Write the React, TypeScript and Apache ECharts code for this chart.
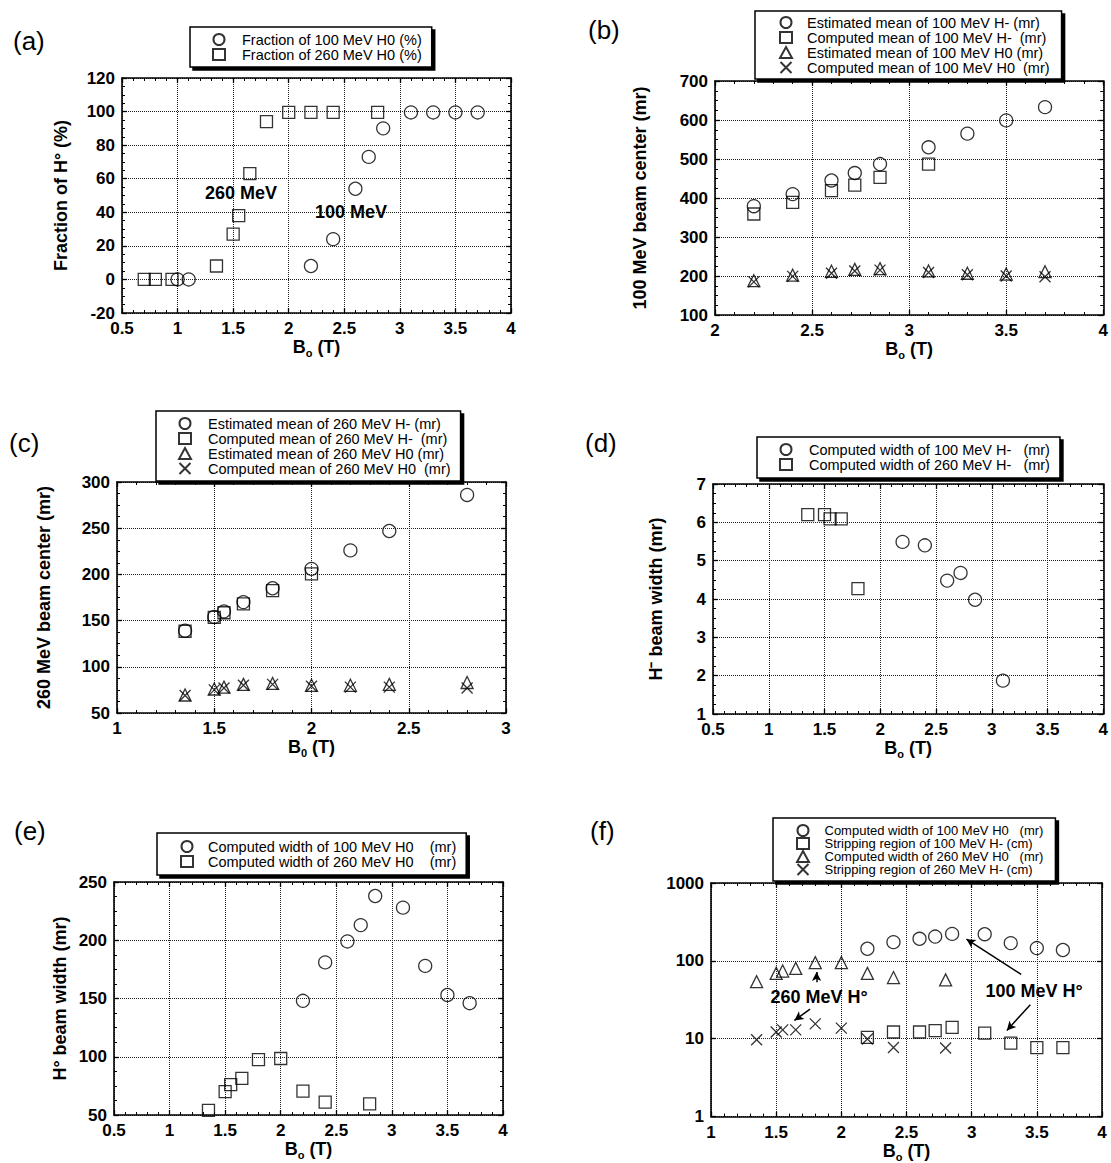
import React, { useEffect, useRef } from "react";
import * as echarts from "echarts";

const FONT = '"Liberation Sans", Arial, Helvetica, sans-serif';

// (a) fraction of H0
const aX100 = [1.0, 1.1, 2.2, 2.4, 2.6, 2.72, 2.85, 3.1, 3.3, 3.5, 3.7];
const aY100 = [0, 0, 8, 24, 54, 73, 90, 99.5, 99.5, 99.5, 99.5];
const aX260 = [0.7, 0.8, 0.95, 1.35, 1.5, 1.55, 1.65, 1.8, 2.0, 2.2, 2.4, 2.8];
const aY260 = [0, 0, 0, 8, 27, 38, 63, 94, 99.5, 99.5, 99.5, 99.5];

// (b) 100 MeV beam center
const bX = [2.2, 2.4, 2.6, 2.72, 2.85, 3.1, 3.3, 3.5, 3.7];
const bEstHm = [379, 410, 445, 464, 487, 530, 565, 599, 633];
const bXc = [2.2, 2.4, 2.6, 2.72, 2.85, 3.1];
const bCompHm = [359, 389, 419, 433, 453, 487];
const bEstH0 = [188, 202, 212, 217, 219, 213, 207, 205, 211];
const bCompH0 = [185, 199, 207, 213, 215, 209, 203, 200, 198];

// (c) 260 MeV beam center
const cX = [1.35, 1.5, 1.55, 1.65, 1.8, 2.0, 2.2, 2.4, 2.8];
const cEstHm = [139, 154, 160, 170, 185, 206, 226, 247, 286];
const cXc = [1.35, 1.5, 1.55, 1.65, 1.8, 2.0];
const cCompHm = [138.5, 153.5, 158.5, 168, 182.5, 200.5];
const cEstH0 = [69.5, 76, 78, 81, 82, 80, 80, 81, 83];
const cCompH0 = [69, 75, 77, 80, 81, 79, 78, 78, 77];

// (d) H- beam width
const dX100 = [2.2, 2.4, 2.6, 2.72, 2.85, 3.1];
const dW100 = [5.49, 5.4, 4.48, 4.68, 3.98, 1.87];
const dX260 = [1.35, 1.5, 1.55, 1.65, 1.8];
const dW260 = [6.2, 6.2, 6.09, 6.09, 4.27];

// (e) H0 beam width
const eX100 = [2.2, 2.4, 2.6, 2.72, 2.85, 3.1, 3.3, 3.5, 3.7];
const eW100 = [148, 181, 199, 213, 238, 228, 178, 153, 146];
const eX260 = [1.35, 1.5, 1.55, 1.65, 1.8, 2.0, 2.2, 2.4, 2.8];
const eW260 = [54, 70, 76, 81.5, 97.5, 98.5, 70.5, 61, 59.5];

// (f) widths and stripping regions (log)
const fX100 = [2.2, 2.4, 2.6, 2.72, 2.85, 3.1, 3.3, 3.5, 3.7];
const fW100 = [143, 174, 192, 205, 222, 220, 169, 146, 138];
const fStrip100 = [10.4, 12.2, 12.2, 12.7, 14, 11.8, 8.8, 7.7, 7.7];
const fX260 = [1.35, 1.5, 1.55, 1.65, 1.8, 2.0, 2.2, 2.4, 2.8];
const fW260 = [54, 69, 74, 80, 95, 95, 69, 61, 57];
const fStrip260 = [9.7, 12.2, 13, 13, 15.5, 13.7, 9.9, 7.7, 7.6];

const fArrows = [
  [[3.38, 67], [2.96, 190]],
  [[1.81, 53], [1.81, 72]],
  [[1.76, 24], [1.64, 17.2]],
  [[3.45, 27.4], [3.27, 12.8]],
];

const CIRCLE = "circle";
const SQUARE = "rect";
const TRI = "triangle";
const CROSS = "path://M0,0L10,10M10,0L0,10";

const zip = (xs: number[], ys: number[]) => xs.map((x, i) => [x, ys[i]]);

type Panel = {
  grid: { left: number; top: number; width: number; height: number };
  xMin: number; xMax: number; xInt: number;
  yMin: number; yMax: number; yInt?: number; yLog?: boolean;
  yName: string; yGap: number; xName: string; xGap: number;
  legend: { left: number; top: number; padding: number[]; textGap: number; lineHeight: number; fontSize: number };
  series: { name: string; symbol: string; size: number; data: number[][] }[];
};

const panels: Panel[] = [
  {
    grid: { left: 122, top: 78, width: 389, height: 235 },
    xMin: 0.5, xMax: 4, xInt: 0.5, yMin: -20, yMax: 120, yInt: 20,
    yName: "Fraction of H° (%)", yGap: 52, xName: "{b|B}{s|o}{b| (T)}", xGap: 20,
    legend: { left: 190, top: 27, padding: [5, 10, 5, 22], textGap: 12, lineHeight: 13.5, fontSize: 14.5 },
    series: [
      { name: "Fraction of 100 MeV H0 (%)", symbol: CIRCLE, size: 13, data: zip(aX100, aY100) },
      { name: "Fraction of 260 MeV H0 (%)", symbol: SQUARE, size: 12, data: zip(aX260, aY260) },
    ],
  },
  {
    grid: { left: 715, top: 81, width: 390, height: 234 },
    xMin: 2, xMax: 4, xInt: 0.5, yMin: 100, yMax: 700, yInt: 100,
    yName: "100 MeV beam center (mr)", yGap: 66, xName: "{b|B}{s|o}{b| (T)}", xGap: 20,
    legend: { left: 755, top: 11, padding: [4, 12, 4, 24], textGap: 10, lineHeight: 12.8, fontSize: 14.5 },
    series: [
      { name: "Estimated mean of 100 MeV H- (mr)", symbol: CIRCLE, size: 13, data: zip(bX, bEstHm) },
      { name: "Computed mean of 100 MeV H-  (mr)", symbol: SQUARE, size: 12, data: zip(bXc, bCompHm) },
      { name: "Estimated mean of 100 MeV H0 (mr)", symbol: TRI, size: 12, data: zip(bX, bEstH0) },
      { name: "Computed mean of 100 MeV H0  (mr)", symbol: CROSS, size: 11, data: zip(bX, bCompH0) },
    ],
  },
  {
    grid: { left: 117, top: 482, width: 389, height: 231 },
    xMin: 1, xMax: 3, xInt: 0.5, yMin: 50, yMax: 300, yInt: 50,
    yName: "260 MeV beam center (mr)", yGap: 64, xName: "{b|B}{s|0}{b| (T)}", xGap: 20,
    legend: { left: 156, top: 411, padding: [5, 10, 5, 22], textGap: 12, lineHeight: 12.2, fontSize: 14.5 },
    series: [
      { name: "Estimated mean of 260 MeV H- (mr)", symbol: CIRCLE, size: 13, data: zip(cX, cEstHm) },
      { name: "Computed mean of 260 MeV H-  (mr)", symbol: SQUARE, size: 12, data: zip(cXc, cCompHm) },
      { name: "Estimated mean of 260 MeV H0 (mr)", symbol: TRI, size: 12, data: zip(cX, cEstH0) },
      { name: "Computed mean of 260 MeV H0  (mr)", symbol: CROSS, size: 11, data: zip(cX, cCompH0) },
    ],
  },
  {
    grid: { left: 713, top: 484, width: 392, height: 230 },
    xMin: 0.5, xMax: 4, xInt: 0.5, yMin: 1, yMax: 7, yInt: 1,
    yName: "H⁻ beam width (mr)", yGap: 48, xName: "{b|B}{s|o}{b| (T)}", xGap: 20,
    legend: { left: 757, top: 437, padding: [5, 10, 6, 22], textGap: 12, lineHeight: 13.5, fontSize: 14.5 },
    series: [
      { name: "Computed width of 100 MeV H-   (mr)", symbol: CIRCLE, size: 13, data: zip(dX100, dW100) },
      { name: "Computed width of 260 MeV H-   (mr)", symbol: SQUARE, size: 12, data: zip(dX260, dW260) },
    ],
  },
  {
    grid: { left: 114, top: 882, width: 389, height: 233 },
    xMin: 0.5, xMax: 4, xInt: 0.5, yMin: 50, yMax: 250, yInt: 50,
    yName: "H° beam width (mr)", yGap: 45, xName: "{b|B}{s|o}{b| (T)}", xGap: 20,
    legend: { left: 157, top: 833, padding: [6, 10, 6, 23], textGap: 10, lineHeight: 12.5, fontSize: 14.5 },
    series: [
      { name: "Computed width of 100 MeV H0    (mr)", symbol: CIRCLE, size: 13, data: zip(eX100, eW100) },
      { name: "Computed width of 260 MeV H0    (mr)", symbol: SQUARE, size: 12, data: zip(eX260, eW260) },
    ],
  },
  {
    grid: { left: 711, top: 883, width: 391, height: 234 },
    xMin: 1, xMax: 4, xInt: 0.5, yMin: 1, yMax: 1000, yLog: true,
    yName: "", yGap: 50, xName: "{b|B}{s|o}{b| (T)}", xGap: 20,
    legend: { left: 773, top: 818, padding: [6, 12, 5, 23], textGap: 10.5, lineHeight: 12, fontSize: 13 },
    series: [
      { name: "Computed width of 100 MeV H0   (mr)", symbol: CIRCLE, size: 13, data: zip(fX100, fW100) },
      { name: "Stripping region of 100 MeV H- (cm)", symbol: SQUARE, size: 12, data: zip(fX100, fStrip100) },
      { name: "Computed width of 260 MeV H0   (mr)", symbol: TRI, size: 12, data: zip(fX260, fW260) },
      { name: "Stripping region of 260 MeV H- (cm)", symbol: CROSS, size: 11, data: zip(fX260, fStrip260) },
    ],
  },
];

const labels = [
  { t: "(a)", x: 13, y: 28 },
  { t: "(b)", x: 588, y: 17 },
  { t: "(c)", x: 9, y: 430 },
  { t: "(d)", x: 585, y: 430 },
  { t: "(e)", x: 14, y: 818 },
  { t: "(f)", x: 590, y: 818 },
];

const notes = [
  { t: "260 MeV", x: 241, y: 193 },
  { t: "100 MeV", x: 351, y: 212 },
  { t: "260 MeV H°", x: 819, y: 997 },
  { t: "100 MeV H°", x: 1034, y: 991 },
];

const axisLine = { show: true, onZero: false, lineStyle: { color: "#000", width: 1.6 } };
const tick = { show: true, inside: true, length: 5, lineStyle: { color: "#000", width: 1.3 } };
const minor = (n: number) => ({ show: true, splitNumber: n, length: 3, lineStyle: { color: "#000", width: 1 } });
const split = { show: true, lineStyle: { type: "dotted", color: "#222", width: 1 } };
const tickLabel = { fontFamily: FONT, fontSize: 17, fontWeight: "bold", color: "#000", margin: 7 };
const nameStyle = { fontFamily: FONT, fontSize: 18, fontWeight: "bold", color: "#000" };
const xNameStyle = {
  fontFamily: FONT, color: "#000",
  rich: {
    b: { fontFamily: FONT, fontSize: 18, fontWeight: "bold", color: "#000" },
    s: { fontFamily: FONT, fontSize: 11, fontWeight: "bold", color: "#000", padding: [12, 0, 0, 0] },
  },
};

function buildOption() {
  const grids: any[] = [];
  const xAxes: any[] = [];
  const yAxes: any[] = [];
  const series: any[] = [];
  const legends: any[] = [];
  const mirrorX: any[] = [];
  const mirrorY: any[] = [];

  panels.forEach((p, i) => {
    grids.push({ ...p.grid, containLabel: false });
    xAxes.push({
      gridIndex: i, type: "value", position: "bottom",
      min: p.xMin, max: p.xMax, interval: p.xInt,
      axisLine, axisTick: tick, minorTick: minor(5), splitLine: split,
      axisLabel: tickLabel,
      name: p.xName, nameLocation: "middle", nameGap: p.xGap, nameTextStyle: xNameStyle,
    });
    mirrorX.push({
      gridIndex: i, type: "value", position: "top",
      min: p.xMin, max: p.xMax, interval: p.xInt,
      axisLine, axisTick: tick, minorTick: minor(5), splitLine: { show: false },
      axisLabel: { show: false },
    });
    const yBase: any = p.yLog
      ? { type: "log", logBase: 10, min: p.yMin, max: p.yMax }
      : { type: "value", min: p.yMin, max: p.yMax, interval: p.yInt };
    yAxes.push({
      gridIndex: i, position: "left", ...yBase,
      axisLine, axisTick: tick, minorTick: p.yLog ? { show: false } : minor(4), splitLine: split,
      axisLabel: p.yLog ? { ...tickLabel, formatter: (v: number) => String(Math.round(v)) } : tickLabel,
      name: p.yName, nameLocation: "middle", nameGap: p.yGap, nameTextStyle: nameStyle,
    });
    mirrorY.push({
      gridIndex: i, position: "right", ...yBase,
      axisLine, axisTick: tick, minorTick: p.yLog ? { show: false } : minor(4), splitLine: { show: false },
      axisLabel: { show: false },
    });
    p.series.forEach((s) => {
      series.push({
        type: "scatter", name: s.name, xAxisIndex: i, yAxisIndex: i,
        symbol: s.symbol, symbolSize: s.size, data: s.data,
        itemStyle: { color: "rgba(0,0,0,0)", borderColor: "#000", borderWidth: 1.3 },
        z: 5,
      });
    });
    legends.push({
      orient: "vertical", left: p.legend.left, top: p.legend.top,
      padding: p.legend.padding, itemGap: 0,
      itemWidth: 12, itemHeight: 11,
      selectedMode: false,
      backgroundColor: "#fff", borderColor: "#000", borderWidth: 1.5,
      shadowColor: "#000", shadowBlur: 1, shadowOffsetX: 3, shadowOffsetY: 3,
      formatter: (name: string) => `{t|${name}}`,
      textStyle: {
        fontFamily: FONT, fontSize: p.legend.fontSize, color: "#000",
        padding: [0, 0, 0, p.legend.textGap],
        rich: {
          t: { fontFamily: FONT, fontSize: p.legend.fontSize, lineHeight: p.legend.lineHeight, color: "#000" },
        },
      },
      data: p.series.map((s) => ({ name: s.name, icon: s.symbol })),
    });
  });

  // arrows in panel (f)
  const fIdx = series.findIndex((s) => s.name === "Computed width of 100 MeV H0   (mr)");
  series[fIdx].markLine = {
    silent: true, symbol: ["none", "arrow"], symbolSize: [7, 9],
    label: { show: false },
    lineStyle: { color: "#000", width: 1.5, type: "solid" },
    data: fArrows.map((a) => [{ coord: a[0] }, { coord: a[1] }]),
  };

  const graphic: any[] = [];
  labels.forEach((l) => {
    graphic.push({
      type: "text", left: l.x, top: l.y,
      style: { text: l.t, font: `26px ${FONT}`, fill: "#000" },
    });
  });
  notes.forEach((n) => {
    graphic.push({
      type: "text", x: n.x, y: n.y,
      style: { text: n.t, font: `bold 18px ${FONT}`, fill: "#000", align: "center", verticalAlign: "middle" },
      z: 10,
    });
  });

  return {
    animation: false,
    backgroundColor: "#fff",
    grid: grids,
    xAxis: [...xAxes, ...mirrorX],
    yAxis: [...yAxes, ...mirrorY],
    legend: legends,
    series,
    graphic,
  };
}

export default function App() {
  const ref = useRef<HTMLDivElement>(null);
  useEffect(() => {
    if (!ref.current) return;
    const chart = echarts.init(ref.current, undefined, { renderer: "svg" });
    chart.setOption(buildOption() as any);
    return () => chart.dispose();
  }, []);
  return (
    <div
      ref={ref}
      style={{ position: "fixed", left: 0, top: 0, width: 1111, height: 1163, background: "#fff" }}
    />
  );
}
